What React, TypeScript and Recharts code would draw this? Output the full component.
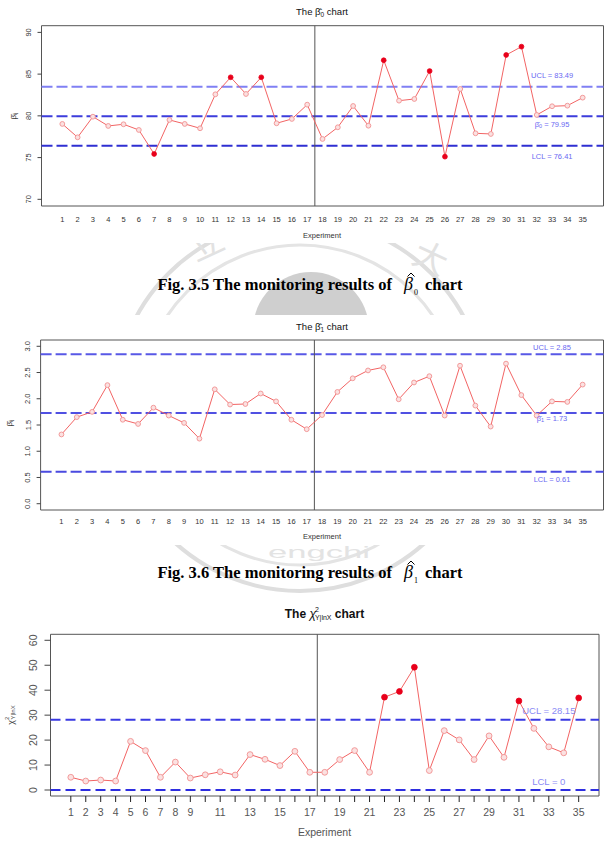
import React from 'react';
import {
  LineChart,
  Line,
  XAxis,
  YAxis,
  ReferenceLine,
  ReferenceArea,
  ReferenceDot,
} from 'recharts';

// ---- data -------------------------------------------------------------
const experiments = [
  1, 2, 3, 4, 5, 6, 7, 8, 9, 10, 11, 12, 13, 14, 15, 16, 17, 18,
  19, 20, 21, 22, 23, 24, 25, 26, 27, 28, 29, 30, 31, 32, 33, 34, 35,
];

const beta0Values = [
  79.03, 77.43, 79.9, 78.79, 78.99, 78.31, 75.43, 79.51, 79.03, 78.51,
  82.58, 84.62, 82.62, 84.62, 79.11, 79.63, 81.34, 77.23, 78.63, 81.18,
  78.82, 86.66, 81.82, 82.02, 85.37, 75.11, 83.22, 77.91, 77.83, 87.29,
  88.29, 80.11, 81.15, 81.22, 82.18,
];

const beta1Values = [
  1.32, 1.65, 1.75, 2.26, 1.6, 1.52, 1.83, 1.68, 1.54, 1.24,
  2.18, 1.89, 1.9, 2.1, 1.95, 1.6, 1.42, 1.69, 2.13, 2.39,
  2.54, 2.6, 1.99, 2.31, 2.43, 1.68, 2.63, 1.87, 1.47, 2.67,
  2.07, 1.68, 1.95, 1.94, 2.27,
];

const chiSquareValues = [
  5.1, 3.6, 4.0, 3.6, 19.5, 15.8, 5.1, 11.2, 4.8, 6.1,
  7.3, 6.0, 14.2, 12.3, 9.8, 15.5, 7.1, 7.1, 12.2, 15.8,
  7.1, 37.2, 39.5, 49.2, 7.8, 23.8, 20.1, 12.2, 21.7, 13.1,
  35.7, 24.7, 17.3, 14.9, 36.9,
];

const beta0Limits = { ucl: 83.49, center: 79.95, lcl: 76.41 };
const beta1Limits = { ucl: 2.85, center: 1.73, lcl: 0.61 };
const chiLimits = { ucl: 28.15, lcl: 0 };

const beta0YTicks = [70, 75, 80, 85, 90];
const beta1YTicks = [0, 0.5, 1, 1.5, 2, 2.5, 3];
const chiYTicks = [0, 10, 20, 30, 40, 50, 60];
const chiXLabels = [1, 2, 3, 4, 5, 6, 7, 8, 9, 11, 13, 15, 17, 19, 21, 23, 25, 27, 29, 31, 33, 35];

const X_DOMAIN: [number, number] = [-0.36, 36.36];
const PHASE_SPLIT = 17.5;
const LABEL_X = 33;

const SANS = '"Liberation Sans", Arial, Helvetica, sans-serif';
const SERIF = '"Liberation Serif", "Times New Roman", serif';

const toRows = (vals: number[]) => experiments.map((x, i) => ({ x, y: vals[i] }));

// ---- generic control chart ------------------------------------------------
type LimitSpec = {
  value: number;
  color: string;
  text: React.ReactNode;
  dy: number;
};

type ChartSpec = {
  top: number;
  height: number;
  values: number[];
  plot: { left: number; right: number; top: number; bottom: number };
  yDomain: [number, number];
  yTicks: number[];
  yFormat: (v: number) => string;
  yLabelX: number;
  tickFont: number;
  tickColor: string;
  yTickSize: number;
  xLabels: number[];
  xTickSize: number;
  xLabelDy: number;
  limits: LimitSpec[];
  dash: string;
  dashWidth: number;
  labelFont: number;
  labelColor: string;
  ucl: number;
  lcl: number;
  dotR: number;
};

function ControlChart(s: ChartSpec) {
  const rows = toRows(s.values);
  const margin = { top: s.plot.top, right: 606 - s.plot.right, bottom: 0, left: 0 };

  const renderDot = (p: any) => {
    const { cx, cy, index, payload } = p;
    const v = payload.y;
    const out = v > s.ucl || v < s.lcl;
    if (out) {
      return <circle key={`d${index}`} cx={cx} cy={cy} r={s.dotR} fill="#e8001a" stroke="#e8001a" strokeWidth={0.8} />;
    }
    return <circle key={`d${index}`} cx={cx} cy={cy} r={s.dotR} fill="#fbe1e1" stroke="#f39a9a" strokeWidth={1} />;
  };

  const XTick = (p: any) => {
    const v = p.payload?.value;
    if (!s.xLabels.includes(v)) return <g />;
    return (
      <text
        x={p.x}
        y={s.plot.bottom + s.xLabelDy}
        textAnchor="middle"
        dominantBaseline="central"
        fontFamily={SANS}
        fontSize={s.tickFont}
        fill={s.tickColor}
      >
        {v}
      </text>
    );
  };

  const YTick = (p: any) => {
    const v = p.payload?.value;
    return (
      <text
        x={s.yLabelX}
        y={p.y}
        transform={`rotate(-90 ${s.yLabelX} ${p.y})`}
        textAnchor="middle"
        dominantBaseline="central"
        fontFamily={SANS}
        fontSize={s.tickFont}
        fill={s.tickColor}
      >
        {s.yFormat(v)}
      </text>
    );
  };

  const makeLabel = (lim: LimitSpec) => (p: any) => {
    const vb = p.viewBox || {};
    const cx = (vb.x ?? 0) + (vb.width ?? 0) / 2;
    const cy = (vb.y ?? 0) + (vb.height ?? 0) / 2;
    return (
      <text
        x={cx}
        y={cy + lim.dy}
        textAnchor="middle"
        dominantBaseline="central"
        fontFamily={SANS}
        fontSize={s.labelFont}
        fill={s.labelColor}
      >
        {lim.text}
      </text>
    );
  };

  return (
    <div style={{ position: 'absolute', left: 0, top: s.top, width: 606, height: s.height, background: '#ffffff' }}>
      <LineChart width={606} height={s.height} data={rows} margin={margin}>
        <XAxis
          dataKey="x"
          type="number"
          domain={X_DOMAIN}
          ticks={experiments}
          interval={0}
          axisLine={false}
          tickSize={s.xTickSize}
          tickMargin={0}
          tickLine={s.xTickSize > 0 ? { stroke: '#222', strokeWidth: 1 } : false}
          tick={XTick}
          height={s.height - s.plot.bottom}
          allowDataOverflow
        />
        <YAxis
          type="number"
          domain={s.yDomain}
          ticks={s.yTicks}
          interval={0}
          width={s.plot.left}
          axisLine={false}
          tickSize={s.yTickSize}
          tickMargin={0}
          tickLine={{ stroke: '#444', strokeWidth: 1 }}
          tick={YTick}
          allowDataOverflow
        />
        <ReferenceArea
          x1={X_DOMAIN[0]}
          x2={X_DOMAIN[1]}
          y1={s.yDomain[0]}
          y2={s.yDomain[1]}
          fill="none"
          fillOpacity={0}
          stroke="#555"
          strokeWidth={1}
          ifOverflow="visible"
        />
        {s.limits.map((lim, i) => (
          <ReferenceLine
            key={`l${i}`}
            y={lim.value}
            stroke={lim.color}
            strokeWidth={s.dashWidth}
            strokeDasharray={s.dash}
          />
        ))}
        <ReferenceLine x={PHASE_SPLIT} stroke="#555" strokeWidth={1} />
        <Line
          type="linear"
          dataKey="y"
          stroke="#f26464"
          strokeWidth={1}
          dot={renderDot}
          activeDot={false}
          isAnimationActive={false}
        />
        {s.limits.map((lim, i) => (
          <ReferenceDot
            key={`t${i}`}
            x={LABEL_X}
            y={lim.value}
            r={0}
            fill="none"
            stroke="none"
            label={makeLabel(lim)}
          />
        ))}
      </LineChart>
    </div>
  );
}

// figure caption below a panel, with a hatted beta and a numeric subscript
function Caption({ top, figure, sub }: { top: number; figure: string; sub: string }) {
  return (
    <div
      style={{
        position: 'absolute',
        left: 7,
        top: top - 11,
        width: 606,
        height: 22,
        lineHeight: '22px',
        textAlign: 'center',
        fontFamily: SERIF,
        fontWeight: 'bold',
        fontSize: 16.5,
        color: '#000',
        whiteSpace: 'nowrap',
      }}
    >
      {`Fig. ${figure} The monitoring results of`}
      <span style={{ display: 'inline-block', width: 12 }} />
      <span
        style={{
          position: 'relative',
          display: 'inline-block',
          fontStyle: 'italic',
          fontWeight: 'normal',
          fontSize: 18,
        }}
      >
        {'\u03B2'}
        <svg
          width={8}
          height={5}
          style={{ position: 'absolute', left: 3, top: -1 }}
        >
          <polyline points="0.5,4.5 4,1 7.5,4.5" fill="none" stroke="#000" strokeWidth={1} />
        </svg>
      </span>
      <span style={{ fontSize: 8, fontWeight: 'normal', position: 'relative', top: 5, marginLeft: 1 }}>{sub}</span>
      <span style={{ display: 'inline-block', width: 7 }} />
      chart
    </div>
  );
}

// ---- page ------------------------------------------------------------------
export default function App() {
  const fmt0 = (v: number) => String(v);
  const fmt1 = (v: number) => v.toFixed(1);

  return (
    <div
      style={{
        position: 'absolute',
        left: 0,
        top: 0,
        width: 606,
        height: 861,
        background: '#ffffff',
        overflow: 'hidden',
      }}
    >
      {/* faint seal in the background, visible between the panels */}
      <svg width={606} height={861} style={{ position: 'absolute', left: 0, top: 0 }}>
        <circle cx={300} cy={405} r={186} fill="none" stroke="#dedede" strokeWidth={4} />
        <circle cx={300} cy={405} r={160} fill="none" stroke="#e4e4e4" strokeWidth={3} />
        <circle cx={311} cy={330} r={58} fill="#cfcfcf" />
        <text x={196} y={262} fontFamily={'"Noto Sans CJK TC", sans-serif'} fontSize={34} fill="#e2e2e2" transform="rotate(-25 196 262)">立</text>
        <text x={410} y={262} fontFamily={'"Noto Sans CJK TC", sans-serif'} fontSize={34} fill="#e2e2e2" transform="rotate(25 410 262)">大</text>
        <text x={268} y={558} fontFamily={SANS} fontSize={16} textLength={102} lengthAdjust="spacingAndGlyphs" fill="#e3e3e3">engchi</text>
      </svg>

      <ControlChart
        top={0}
        height={243}
        values={beta0Values}
        plot={{ left: 41.5, right: 603.5, top: 25.7, bottom: 206 }}
        yDomain={[69.2, 90.8]}
        yTicks={beta0YTicks}
        yFormat={fmt0}
        yLabelX={29}
        tickFont={7.5}
        tickColor="#333"
        yTickSize={4}
        xLabels={experiments}
        xTickSize={0}
        xLabelDy={13}
        dash="11 4"
        dashWidth={2}
        labelFont={7.5}
        labelColor="#6a6af2"
        ucl={beta0Limits.ucl}
        lcl={beta0Limits.lcl}
        dotR={2.4}
        limits={[
          { value: beta0Limits.ucl, color: '#8080f4', text: `UCL = ${beta0Limits.ucl}`, dy: -11 },
          {
            value: beta0Limits.center,
            color: '#3d3ddc',
            text: (
              <>
                <tspan>{'\u03B2\u0304'}</tspan>
                <tspan dy={2} fontSize={5.5}>0</tspan>
                <tspan dy={-2}>{` = ${beta0Limits.center}`}</tspan>
              </>
            ),
            dy: 8,
          },
          { value: beta0Limits.lcl, color: '#2f2fd2', text: `LCL = ${beta0Limits.lcl}`, dy: 11 },
        ]}
      />

      <ControlChart
        top={315}
        height={230}
        values={beta1Values}
        plot={{ left: 40.6, right: 603.5, top: 25, bottom: 195 }}
        yDomain={[-0.12, 3.12]}
        yTicks={beta1YTicks}
        yFormat={fmt1}
        yLabelX={28}
        tickFont={7.5}
        tickColor="#333"
        yTickSize={4}
        xLabels={experiments}
        xTickSize={0}
        xLabelDy={11.7}
        dash="11 4"
        dashWidth={2}
        labelFont={7.5}
        labelColor="#6a6af2"
        ucl={beta1Limits.ucl}
        lcl={beta1Limits.lcl}
        dotR={2.4}
        limits={[
          { value: beta1Limits.ucl, color: '#5858e6', text: `UCL = ${beta1Limits.ucl}`, dy: -6.5 },
          {
            value: beta1Limits.center,
            color: '#5050e2',
            text: (
              <>
                <tspan>{'\u03B2\u0304'}</tspan>
                <tspan dy={2} fontSize={5.5}>1</tspan>
                <tspan dy={-2}>{` = ${beta1Limits.center}`}</tspan>
              </>
            ),
            dy: 5.5,
          },
          { value: beta1Limits.lcl, color: '#4a4ae0', text: `LCL = ${beta1Limits.lcl}`, dy: 8 },
        ]}
      />

      <ControlChart
        top={605}
        height={256}
        values={chiSquareValues}
        plot={{ left: 50.5, right: 599, top: 29.3, bottom: 191 }}
        yDomain={[-2.4, 62.4]}
        yTicks={chiYTicks}
        yFormat={fmt0}
        yLabelX={33}
        tickFont={10.5}
        tickColor="#555"
        yTickSize={6}
        xLabels={chiXLabels}
        xTickSize={6}
        xLabelDy={16.3}
        dash="10 5"
        dashWidth={2.2}
        labelFont={9.5}
        labelColor="#8a8af5"
        ucl={chiLimits.ucl}
        lcl={chiLimits.lcl}
        dotR={2.9}
        limits={[
          { value: chiLimits.ucl, color: '#3a3ae2', text: `UCL = ${chiLimits.ucl}`, dy: -9 },
          { value: chiLimits.lcl, color: '#2e2ee0', text: `LCL = ${chiLimits.lcl}`, dy: -9 },
        ]}
      />

      <Caption top={284} figure="3.5" sub="0" />
      <Caption top={572} figure="3.6" sub="1" />

      {/* panel titles and axis names */}
      <svg width={606} height={861} style={{ position: 'absolute', left: 0, top: 0, pointerEvents: 'none' }}>
        {/* panel 1 */}
        <text x={322} y={11} textAnchor="middle" dominantBaseline="central" fontFamily={SANS} fontSize={9.5} fill="#111">
          <tspan>{'The  \u03B2\u0302'}</tspan>
          <tspan dy={2.5} fontSize={6.5}>0</tspan>
          <tspan dy={-2.5}>{'  chart'}</tspan>
        </text>
        <text x={322} y={235} textAnchor="middle" dominantBaseline="central" fontFamily={SANS} fontSize={7.5} fill="#333">
          Experiment
        </text>
        <text x={13} y={116} transform="rotate(-90 13 116)" textAnchor="middle" dominantBaseline="central" fontFamily={SANS} fontSize={8} fill="#333">
          <tspan>{'\u03B2\u0302'}</tspan>
          <tspan dy={2} fontSize={5.5}>ij</tspan>
        </text>

        {/* panel 2 */}
        <text x={322} y={326} textAnchor="middle" dominantBaseline="central" fontFamily={SANS} fontSize={9.5} fill="#111">
          <tspan>{'The  \u03B2\u0302'}</tspan>
          <tspan dy={2.5} fontSize={6.5}>1</tspan>
          <tspan dy={-2.5}>{'  chart'}</tspan>
        </text>
        <text x={322} y={536} textAnchor="middle" dominantBaseline="central" fontFamily={SANS} fontSize={7.5} fill="#333">
          Experiment
        </text>
        <text x={9} y={423} transform="rotate(-90 9 423)" textAnchor="middle" dominantBaseline="central" fontFamily={SANS} fontSize={8} fill="#333">
          <tspan>{'\u03B2\u0302'}</tspan>
          <tspan dy={2} fontSize={5.5}>ij</tspan>
        </text>

        {/* panel 3 */}
        <text x={324.5} y={614} textAnchor="middle" dominantBaseline="central" fontFamily={SANS} fontWeight="bold" fontSize={12} fill="#111">
          <tspan>{'The  '}</tspan>
          <tspan fontWeight="normal" fontStyle="italic">{'\u03C7'}</tspan>
          <tspan dy={-5} dx={-1} fontSize={7} fontWeight="normal">2</tspan>
          <tspan dy={8} dx={-4} fontSize={7} fontWeight="normal">{'Y|lnX'}</tspan>
          <tspan dy={-3}>{'  chart'}</tspan>
        </text>
        <text x={324.5} y={832} textAnchor="middle" dominantBaseline="central" fontFamily={SANS} fontSize={10.5} fill="#555">
          Experiment
        </text>
        <text x={11} y={715} transform="rotate(-90 11 715)" textAnchor="middle" dominantBaseline="central" fontFamily={SANS} fontSize={9} fill="#444">
          <tspan>{'\u03C7'}</tspan>
          <tspan dy={-4} fontSize={6}>2</tspan>
          <tspan dy={6} dx={-3} fontSize={6}>{'Y|lnX'}</tspan>
        </text>
      </svg>
    </div>
  );
}
